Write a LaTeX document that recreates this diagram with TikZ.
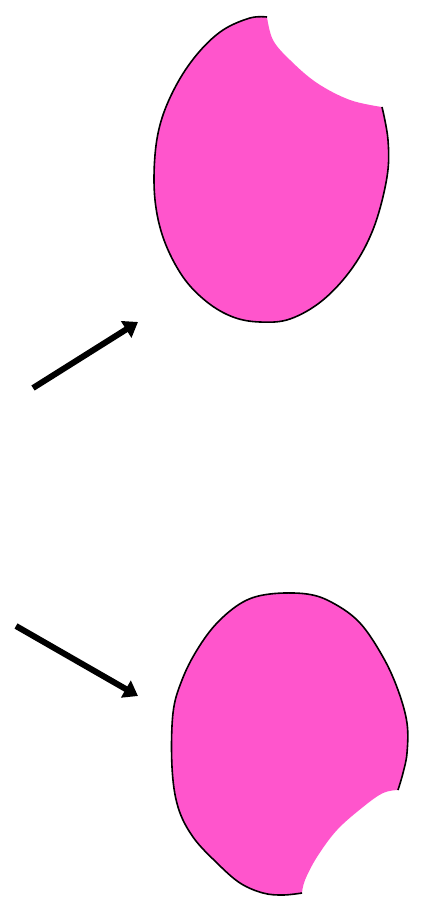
\documentclass[tikz,border=0pt]{standalone}
\usetikzlibrary{arrows.meta}
\definecolor{blobpink}{RGB}{255,85,204}
\tikzset{
  blobfill/.style={fill=blobpink},
  blobline/.style={draw=black, line width=1.6pt},
  arrowline/.style={line width=6pt, -{Triangle[length=14pt,width=19pt]}}
}
\begin{document}
\begin{tikzpicture}[x=1pt,y=-1pt]
\useasboundingbox[fill=white] (0,0) rectangle (423,908);
% top blob
\fill[blobfill] plot[smooth, tension=0.6] coordinates {(382,107) (388,140) (387,177) (374,227) (353,267) (323,300) (290,319) (260,322) (233,317) (207,302) (183,277) (164,240) (155,200) (155,155) (162,118) (178,82) (199,52) (223,30) (250,18) (267,17)}
  -- plot[smooth, tension=0.6] coordinates {(267,17) (273,40) (290,60) (317,83) (350,100) (382,107)} -- cycle;
\draw[blobline] plot[smooth, tension=0.6] coordinates {(382,107) (388,140) (387,177) (374,227) (353,267) (323,300) (290,319) (260,322) (233,317) (207,302) (183,277) (164,240) (155,200) (155,155) (162,118) (178,82) (199,52) (223,30) (250,18) (267,17)};
% bottom blob
\fill[blobfill] plot[smooth, tension=0.6] coordinates {(398,790) (403,773) (407,753) (407,723) (398,690) (383,657) (360,623) (333,603) (307,594) (270,594) (243,602) (217,623) (197,650) (182,680) (173,713) (172,767) (178,807) (193,837) (217,863) (240,883) (263,893) (283,895) (302,893)}
  -- plot[smooth, tension=0.6] coordinates {(302,893) (305,880) (317,857) (337,830) (363,807) (383,793) (398,790)} -- cycle;
\draw[blobline] plot[smooth, tension=0.6] coordinates {(398,790) (403,773) (407,753) (407,723) (398,690) (383,657) (360,623) (333,603) (307,594) (270,594) (243,602) (217,623) (197,650) (182,680) (173,713) (172,767) (178,807) (193,837) (217,863) (240,883) (263,893) (283,895) (302,893)};
% arrows
\coordinate (a1s) at (33,388);
\coordinate (a1e) at (138,322);
\coordinate (a2s) at (16,626);
\coordinate (a2e) at (138,696);
\draw[arrowline] (a1s) -- (a1e);
\draw[arrowline] (a2s) -- (a2e);
\end{tikzpicture}
\end{document}
